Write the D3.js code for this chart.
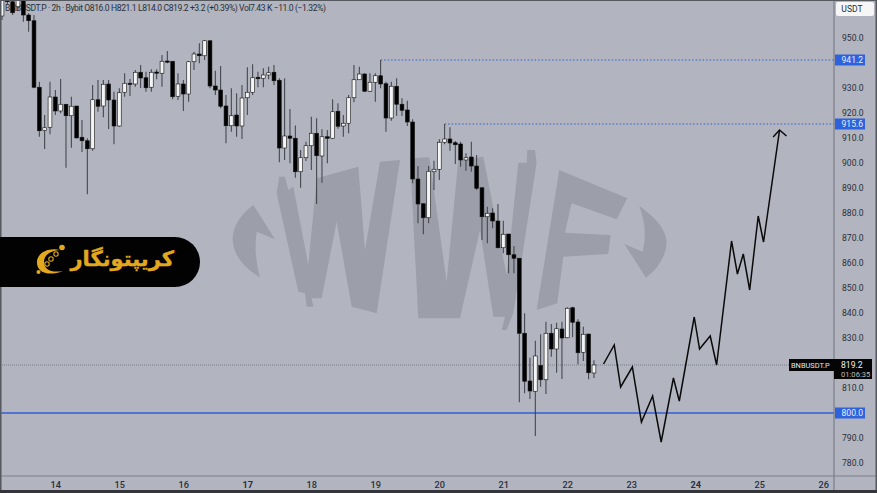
<!DOCTYPE html>
<html><head><meta charset="utf-8">
<script src="https://cdnjs.cloudflare.com/ajax/libs/d3/7.8.5/d3.min.js"></script>
<style>
html,body{margin:0;padding:0;background:#b2b5bf;overflow:hidden}
svg{display:block}
text{font-family:Roboto,"Noto Sans",sans-serif}
</style></head><body><svg id="c" width="877" height="493"></svg>
<script>
const opens=[958.8,966,964.5,962.5,965.2,959.2,956.9,930.3,913.1,914.3,926.4,920.8,923.5,918.9,922.8,910.3,908.9,905.7,925.3,922.8,931.6,925.2,914.8,928.3,931.9,931.6,936.3,934.1,930.3,936.4,935.9,940.8,940.7,926.7,931.6,927.6,940.5,943.6,942.9,948.9,930.8,929.2,922.8,914.9,919.2,914.8,926.1,928.3,934.3,933.9,935.2,936.3,933.1,906,910.8,909.9,896.5,902.1,906.9,911.9,902.8,910.5,909.9,920.7,914.8,915.9,926.1,933.3,935.6,928.7,932.3,934.9,931.7,918,930.7,923.5,921.2,916.4,893.6,883.7,878.1,896.5,897.5,908.3,909.6,908.1,907.6,901.2,902.4,898.8,890.1,878.5,880,876.8,866.1,871.6,863.3,861.9,831.9,812.8,808.7,819,813.3,831.9,825.6,833.6,830.1,842.1,836.4,824.3,831.6,816];
const highs=[968,967,965.2,966,966,959.9,959.2,932.5,919.2,932.5,929.2,933.6,923.5,926.5,922.8,917.2,909.9,931.2,933.2,933.2,933.2,928.5,929.9,935.9,933.6,937.2,939.2,936.5,937.5,937.5,943.2,944.8,940.7,935.9,933.2,940.8,944.5,947.9,949.2,948.9,936.9,938.8,927.2,929.9,927.9,931.2,938.3,939.5,936.5,937.9,938.5,939.2,933.9,933.9,921.6,915,905.2,908.5,918.5,917.9,913.5,913.2,925.5,923.9,919.2,927.2,939.2,938.5,935.9,935.9,935.9,941.2,932.5,932.5,933.9,925.9,924.9,917.5,898.8,883.9,898.8,900.9,909.5,915.6,914.3,908.8,908.5,903.9,908.5,903.2,890.1,882.5,881.9,883.6,876.9,871.6,866.8,862,839.9,822.1,828.9,831.5,836.5,835.6,836.1,836.5,842.3,842.5,837.5,834.5,831.6,821.1];
const lows=[957.2,963.5,959.2,961,956.5,952.5,929.9,910.5,905.6,911.5,919.2,919.9,898.1,906.1,910,904.4,887.5,904.9,920.5,918.3,913.6,907.5,914.5,926.5,926.8,930.5,930,928.5,928.5,933.5,930.5,939.9,925.5,925.2,920.8,924.5,937.2,939.9,941.2,929.9,927.2,921.9,907.9,912.5,910.5,909.6,919.2,927.2,930.3,930.3,933.5,931.2,900.3,901.2,899.9,894.1,890.1,900.8,897.2,883.6,892.1,899.9,909.6,913.7,910.5,911.9,924.3,933.2,928.4,928.4,924.5,929.9,912.5,916.9,918.8,918.8,914.8,891.9,875.9,871.5,875.9,889.2,893.2,907.5,904.9,899.6,898.5,896.9,896.5,889.2,869.2,867.9,873.9,865.9,863.9,855.9,855.9,804.3,807.9,805.6,790.8,810.5,807.6,822.5,816.1,813.6,829.9,830.3,819.5,820.8,813.5,814];
const closes=[965.2,964.5,960.1,965.2,959.2,956.9,930.3,912.9,914.1,926.4,920.8,923.5,918.9,922.7,910,908.9,905.7,925.3,922.7,931.5,925.2,914.8,928.1,931.9,931.6,936.3,934,930.1,936.3,935.9,940.7,940.5,926.5,931.6,927.6,940.5,943.6,942.9,948.9,930.8,929.2,922.7,914.9,918.9,914.8,926,928.3,934.1,933.7,935.2,936.1,932.9,906,910.8,909.9,896.5,902.1,906.9,911.9,902.9,910.5,909.9,920.5,914.7,915.9,926.1,933.3,935.6,928.7,932.3,934.9,931.6,918,930.7,923.5,921.1,916.4,893.6,883.6,878.1,896.7,897.5,908.3,909.6,908,907.3,901.2,902.1,898.8,889.9,878.5,879.9,876.8,866.1,871.5,863.3,861.9,831.9,812.7,808.8,822.8,813.3,831.9,825.6,833.7,830,841.9,836.3,824.1,831.5,816.1,819.2];

const projectionBars=[112.8,114.8,116,118.2,119.9,122,123.6,125.9,127,129.8,130.8,132.8,134,136.8,137.9,139,140.2,141.8,142.8,145.8];
const projectionPrices=[819.6,827.2,810.4,818.4,796.4,806.8,788.4,814,804.8,838.4,825.6,830.8,819.2,868.8,855.6,863.6,849.2,878.8,868.4,913.2];
const arrowBars=[144.6,145.8,147.1];
const arrowPrices=[910.4,913.2,910.8];

const dayLabels=["14","15","16","17","18","19","20","21","22","23","24","25","26"];
const dayBars=[10,22,34,46,58,70,82,94,106,118,130,142,154];
const priceTicks=[950,930,920,910,900,890,880,870,860,850,840,830,810,790,780];

const lastPrice=819.2, supportLevel=800;
const swingLevels=[941.2,915.6];
const swingStartBars=[71,83];

const headerText="BNBUSDT.P · 2h · Bybit O816.0 H821.1 L814.0 C819.2 +3.2 (+0.39%) Vol7.43 K −11.0 (−1.32%)";

const watermark=[
 "M100,165 L165,268 L110,245 Q100,310 120,383 Q35,330 38,260 Q45,205 100,165Z",
 "M170,130 L178,80 L195,80 L205,120 L220,110 L265,345 L290,85 L415,50 L435,300 L480,35 L540,30 L470,490 L395,470 L350,215 L305,445 L275,445 L280,470 L260,470 L255,430 L235,425Z",
 "M570,25 L628,22 L680,395 L715,30 L790,20 L860,375 L895,38 L920,38 L922,0 L945,0 L950,38 L880,490 L860,540 L845,540 L855,500 L820,500 L780,240 L720,505 L595,505Z",
 "M1018,60 L1222,145 L1190,208 L1055,160 L1035,248 L1172,255 L1165,312 L1030,320 L1012,460 L950,480Z",
 "M1258,168 Q1340,225 1340,280 Q1335,340 1278,383 L1213,282 L1268,305 Q1285,240 1258,168Z"
];

const W=877,H=493,axisX=834,axisY=476;
const svg=d3.select("#c");
const x=d3.scaleLinear().domain([0,156]).range([2,2+156*5.333]);
const y=d3.scaleLinear().domain([780,950]).range([463,38]);

svg.append("rect").attr("width",W).attr("height",H).attr("fill","#b2b5bf");

// watermark
svg.append("g").attr("transform","translate(220,150) scale(0.3333)")
  .selectAll("path").data(watermark).join("path").attr("d",d=>d).attr("fill","#9c9fa9");

// reference lines
const blue="#2f5fd6";
svg.append("line").attr("x1",0).attr("x2",axisX).attr("y1",y(supportLevel)).attr("y2",y(supportLevel)).attr("stroke",blue).attr("stroke-width",1.3);
svg.selectAll(".sw").data(swingLevels).join("line").attr("class","sw")
  .attr("x1",(d,i)=>x(swingStartBars[i])).attr("x2",axisX).attr("y1",d=>y(d)).attr("y2",d=>y(d))
  .attr("stroke",blue).attr("stroke-width",1.1).attr("stroke-dasharray","1.5 2");
svg.append("line").attr("x1",0).attr("x2",axisX).attr("y1",y(lastPrice)).attr("y2",y(lastPrice))
  .attr("stroke","#6b6e78").attr("stroke-width",0.8).attr("stroke-dasharray","1 1");

// header
svg.append("text").attr("x",5).attr("y",11).attr("font-size",8.6).attr("fill","#2a2e39")
  .attr("textLength",321).attr("lengthAdjust","spacing").text(headerText);

// candles
const idx=d3.range(opens.length);
const g=svg.append("g");
g.selectAll(".wick").data(idx).join("line").attr("class","wick")
  .attr("x1",i=>x(i)).attr("x2",i=>x(i)).attr("y1",i=>y(highs[i])).attr("y2",i=>y(lows[i]))
  .attr("stroke","#3c3e44").attr("stroke-width",1);
g.selectAll(".body").data(idx).join("rect").attr("class","body")
  .attr("x",i=>x(i)-1.9).attr("width",3.8)
  .attr("y",i=>y(Math.max(opens[i],closes[i])))
  .attr("height",i=>Math.max(1.2,Math.abs(y(opens[i])-y(closes[i]))))
  .attr("fill",i=>closes[i]>=opens[i]?"#f4f4f4":"#000")
  .attr("stroke","#111").attr("stroke-width",0.6);

// projection path
const ln=d3.line().x(d=>x(d[0])).y(d=>y(d[1]));
svg.append("path").attr("d",ln(d3.zip(projectionBars,projectionPrices))).attr("fill","none").attr("stroke","#0a0a0a").attr("stroke-width",1.5).attr("stroke-linejoin","miter");
svg.append("path").attr("d",ln(d3.zip(arrowBars,arrowPrices))).attr("fill","none").attr("stroke","#0a0a0a").attr("stroke-width",1.5);

// axes
const ya=svg.append("g").attr("transform",`translate(${axisX},0)`)
  .call(d3.axisRight(y).tickValues(priceTicks).tickSize(0).tickPadding(8).tickFormat(d3.format(".1f")));
ya.select(".domain").remove();
ya.selectAll("text").attr("font-size",8.6).attr("fill","#2b2e38").style("font-family","Roboto,sans-serif");
const xa=svg.append("g").attr("transform",`translate(0,${axisY})`)
  .call(d3.axisBottom(x).tickValues(dayBars).tickSize(0).tickPadding(5).tickFormat((d,i)=>dayLabels[i]));
xa.select(".domain").remove();
xa.selectAll("text").attr("font-size",9.2).attr("fill","#2b2e38").style("font-family","Roboto,sans-serif")
  .attr("font-weight",(d,i)=>dayLabels[i]==="17"||dayLabels[i]==="24"?700:500);

svg.append("line").attr("x1",0).attr("x2",W).attr("y1",axisY).attr("y2",axisY).attr("stroke","#7d808a");
svg.append("line").attr("x1",axisX).attr("x2",axisX).attr("y1",0).attr("y2",H).attr("stroke","#6f727c");
// frame
svg.append("rect").attr("x",0).attr("y",0).attr("width",1.5).attr("height",H).attr("fill","#55585f");
svg.append("rect").attr("x",0).attr("y",0).attr("width",W).attr("height",1).attr("fill","#55585f");
svg.append("rect").attr("x",875.5).attr("y",0).attr("width",1.5).attr("height",H).attr("fill","#55585f");
svg.append("rect").attr("x",0).attr("y",490).attr("width",W).attr("height",3).attr("fill","#33353a");

// USDT badge
svg.append("rect").attr("x",836).attr("y",2).attr("width",38).attr("height",14).attr("rx",2).attr("fill","#f6f6f7");
svg.append("text").attr("x",852).attr("y",12).attr("text-anchor","middle").attr("font-size",8.6).attr("fill","#2b2e38").text("USDT");

// price labels
const levels=[...swingLevels,supportLevel];
svg.selectAll(".lb").data(levels).join("rect").attr("class","lb")
  .attr("x",axisX+1).attr("width",30).attr("y",d=>y(d)-5.5).attr("height",11).attr("fill","#2d62dc");
svg.selectAll(".lt").data(levels).join("text").attr("class","lt")
  .attr("x",841.5).attr("y",d=>y(d)+3.2).attr("font-size",8.6).attr("fill","#e8eefc").text(d=>d.toFixed(1));

svg.append("rect").attr("x",789).attr("y",y(lastPrice)-6).attr("width",45).attr("height",12).attr("fill","#050505");
svg.append("text").attr("x",791).attr("y",y(lastPrice)+3).attr("font-size",7.4).attr("fill","#e6e6e6").text("BNBUSDT.P");
svg.append("rect").attr("x",834).attr("y",y(lastPrice)-6).attr("width",38).attr("height",20).attr("fill","#050505");
svg.append("text").attr("x",841).attr("y",y(lastPrice)+3).attr("font-size",8.6).attr("fill","#efefef").text(lastPrice.toFixed(1));
svg.append("text").attr("x",841).attr("y",y(lastPrice)+12).attr("font-size",7.6).attr("fill","#bdbdbd").text("01:06:35");

// brand banner
const gold="#e2a91e";
svg.append("path").attr("d","M0,237 H175 A25,25 0 0 1 175,287 H0Z").attr("fill","#020202");
svg.append("text").attr("x",174).attr("y",266).attr("text-anchor","start").attr("font-size",21).attr("font-weight",700)
  .attr("fill",gold).attr("stroke",gold).attr("stroke-width",0.4).attr("direction","rtl")
  .style("font-family","'DejaVu Sans',sans-serif").text("کریپتونگار");
svg.append("path").attr("d","M60,250 C46,247 36,255 37,263 C37,272 48,277 63,271 C52,273 44,270 44,262 C44,255 50,251 60,250Z").attr("fill",gold);
svg.append("circle").attr("cx",62).attr("cy",247.5).attr("r",2.8).attr("fill",gold);
svg.append("circle").attr("cx",56).attr("cy",254).attr("r",2.2).attr("fill","none").attr("stroke",gold).attr("stroke-width",1.1);
svg.append("circle").attr("cx",51).attr("cy",259).attr("r",2.2).attr("fill","none").attr("stroke",gold).attr("stroke-width",1.1);
svg.append("circle").attr("cx",47).attr("cy",264).attr("r",2.2).attr("fill","none").attr("stroke",gold).attr("stroke-width",1.1);
svg.append("circle").attr("cx",38.5).attr("cy",272).attr("r",2).attr("fill",gold);
</script></body></html>
